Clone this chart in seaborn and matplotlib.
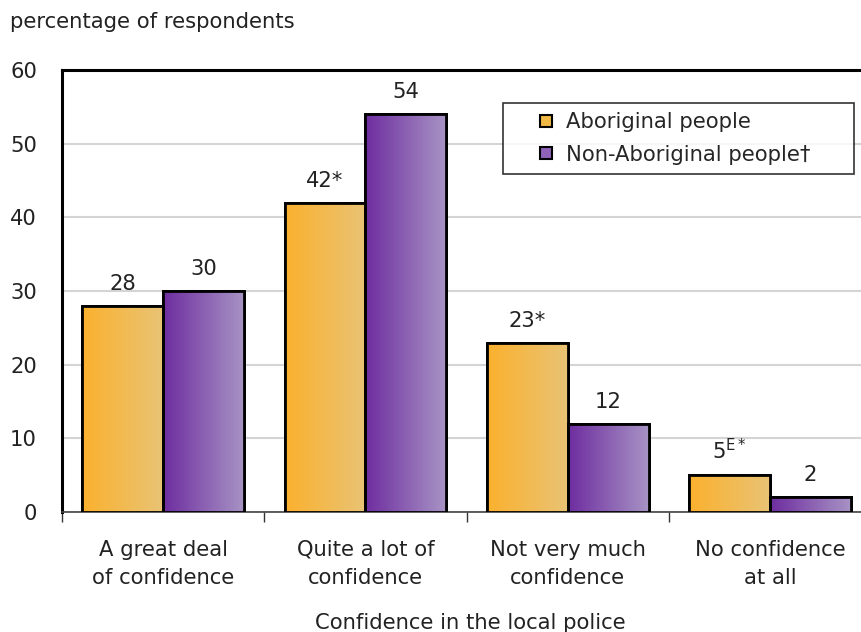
import numpy as np
import pandas as pd
import matplotlib
matplotlib.use("Agg")
import matplotlib.pyplot as plt
import seaborn as sns
from matplotlib.colors import LinearSegmentedColormap
from matplotlib.lines import Line2D

categories = ["A great deal\nof confidence", "Quite a lot of\nconfidence",
              "Not very much\nconfidence", "No confidence\nat all"]
groups = ["Aboriginal people", "Non-Aboriginal people\u2020"]
aboriginal = [28, 42, 23, 5]
non_aboriginal = [30, 54, 12, 2]
labels_ab = ["28", "42*", "23*", "5$^{\\mathregular{E*}}$"]
labels_non = ["30", "54", "12", "2"]

df = pd.DataFrame({
    "category": categories * 2,
    "group": [groups[0]] * 4 + [groups[1]] * 4,
    "value": aboriginal + non_aboriginal,
})

sns.set_style("white")
plt.rcParams["font.family"] = ["DejaVu Sans"]
FS = 15.2
TXT = "#222222"

fig = plt.figure(figsize=(8.62, 6.32), dpi=100)
ax = fig.add_axes([62 / 862, 1 - 512 / 632, 1 - 62 / 862 + 0.02, (512 - 70) / 632])

sns.barplot(data=df, x="category", y="value", hue="group", ax=ax,
            palette=["#F9B233", "#7A3AA8"], width=0.8, edgecolor="black",
            linewidth=2, legend=False, zorder=3)

# gradient fills on top of the seaborn bars
grads = [LinearSegmentedColormap.from_list("o", ["#FBB12E", "#E9C375"]),
         LinearSegmentedColormap.from_list("p", ["#6E2DA0", "#A793C4"])]
bars = [p for p in ax.patches]
for i, bar in enumerate(bars):
    cmap = grads[0] if i < 4 else grads[1]
    x0, y0 = bar.get_x(), bar.get_y()
    w, h = bar.get_width(), bar.get_height()
    im = ax.imshow(np.linspace(0, 1, 256).reshape(1, -1), cmap=cmap,
                   extent=[x0, x0 + w, y0, y0 + h], aspect="auto", zorder=3.5)
    im.set_clip_path(bar)
    ax.add_patch(plt.Rectangle((x0, y0), w, h, fill=False, edgecolor="black",
                               linewidth=2, zorder=4))

for i in range(4):
    b1, b2 = bars[i], bars[i + 4]
    ax.text(b1.get_x() + b1.get_width() / 2, aboriginal[i] + 1.6, labels_ab[i],
            ha="center", va="bottom", fontsize=FS, color=TXT)
    ax.text(b2.get_x() + b2.get_width() / 2, non_aboriginal[i] + 1.6, labels_non[i],
            ha="center", va="bottom", fontsize=FS, color=TXT)

ax.set_ylim(0, 60)
ax.set_xlim(-0.5, -0.5 + 820 / 203)
ax.set_yticks(range(0, 61, 10))
ax.yaxis.grid(True, color="#d4d4d4", linewidth=1.5, zorder=0)
ax.set_axisbelow(True)

ax.set_xticks([0, 1, 2, 3])
ax.set_xticklabels(categories, fontsize=FS, color=TXT, linespacing=1.5)
ax.set_xticks([-0.5, 0.5, 1.5, 2.5], minor=True)
ax.tick_params(axis="x", which="major", length=0, pad=20)
ax.tick_params(axis="x", which="minor", bottom=True, length=7, width=1,
               color="#333333", direction="out")
ax.tick_params(axis="y", length=0, labelsize=FS, labelcolor=TXT, pad=18)

ax.set_xlabel("Confidence in the local police", fontsize=FS, color=TXT, labelpad=18)
ax.set_ylabel("")
fig.text(10 / 862, 1 - 22 / 632, "percentage of respondents", fontsize=FS,
         color=TXT, va="center", ha="left")

for s in ["left", "top"]:
    ax.spines[s].set_color("black")
    ax.spines[s].set_linewidth(2.2)
ax.spines["bottom"].set_color("#444444")
ax.spines["bottom"].set_linewidth(1.2)
ax.spines["right"].set_visible(False)

handles = [Line2D([], [], marker="s", linestyle="none", markersize=9,
                  markerfacecolor="#F0B845", markeredgecolor="black", markeredgewidth=1.5),
           Line2D([], [], marker="s", linestyle="none", markersize=9,
                  markerfacecolor="#8F63B8", markeredgecolor="black", markeredgewidth=1.5)]
leg = ax.legend(handles, [groups[0], groups[1] + "     "], loc="upper left",
                bbox_to_anchor=(503 / 862, 1 - 103 / 632),
                bbox_transform=fig.transFigure, fontsize=FS, frameon=True,
                fancybox=False, edgecolor="black", handlelength=3.2,
                handletextpad=-0.65, borderpad=0.45, labelspacing=0.58,
                borderaxespad=0)
leg.get_frame().set_linewidth(1.2)
leg.set_zorder(10)

fig.savefig("out.png", dpi=100)
